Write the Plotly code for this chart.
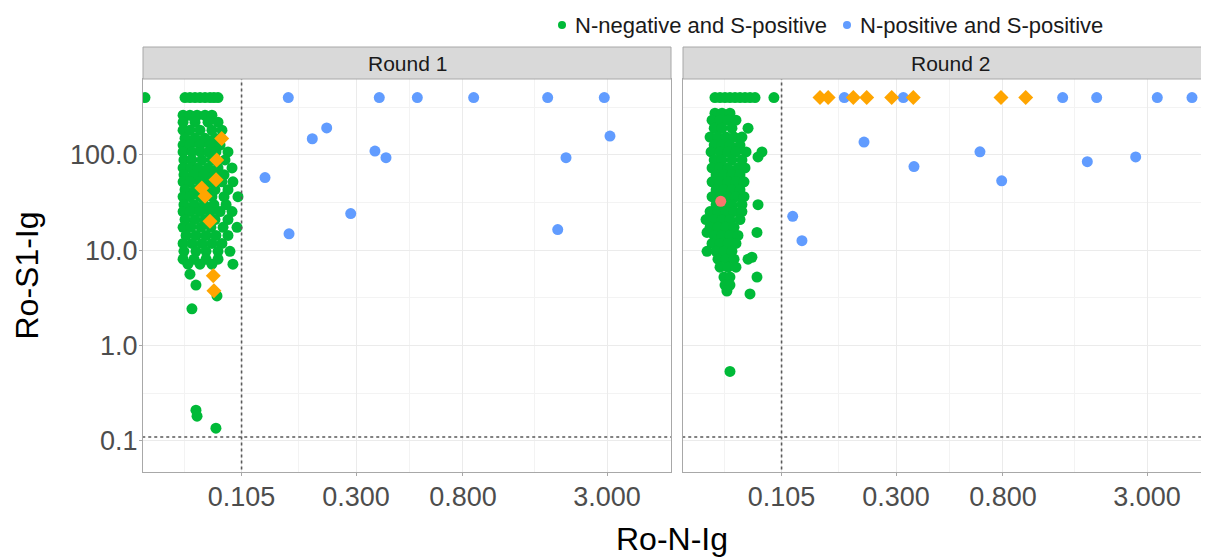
import plotly.graph_objects as go

# ---------------- data ----------------
panels = ["Round 1", "Round 2"]
legend_names = ["N-negative and S-positive", "N-positive and S-positive"]

x_tickvals = [0.105, 0.3, 0.8, 3.0]
x_ticktext = ["0.105", "0.300", "0.800", "3.000"]
x_minorvals = [0.0621, 0.1775, 0.490, 1.549]
y_tickvals = [0.1, 1, 10, 100]
y_ticktext = ["0.1", "1.0", "10.0", "100.0"]
y_minorvals = [0.0316, 0.316, 3.16, 31.6, 316]
cutoff_n = 0.105
cutoff_s = 0.11

# Round 1 : N-negative and S-positive
r1_green_x = [
    0.0433, 0.0625, 0.0654, 0.0685, 0.0717, 0.0751, 0.0786, 0.0815, 0.0846,
    0.0614, 0.0654, 0.0698, 0.0751, 0.0800,
    0.0614, 0.0685, 0.0772, 0.0846,
    0.0614, 0.0654, 0.0717, 0.0800, 0.0877,
    0.0625, 0.0685, 0.0751, 0.0823,
    0.0614, 0.0654, 0.0717, 0.0786, 0.0862,
    0.0614, 0.0666, 0.0720, 0.0775, 0.0830, 0.0927,
    0.0619, 0.0666, 0.0730, 0.0800, 0.0902,
    0.0614, 0.0660, 0.0704, 0.0772, 0.0846, 0.0962,
    0.0619, 0.0679, 0.0744, 0.0815, 0.0894,
    0.0614, 0.0654, 0.0717, 0.0786, 0.0877, 0.0970,
    0.0625, 0.0685, 0.0751, 0.0823, 0.0927,
    0.0614, 0.0654, 0.0717, 0.0800, 0.0894, 0.1016,
    0.0619, 0.0679, 0.0744, 0.0815, 0.0911,
    0.0614, 0.0654, 0.0717, 0.0786, 0.0862, 0.0962,
    0.0625, 0.0685, 0.0751, 0.0823, 0.0927,
    0.0614, 0.0660, 0.0724, 0.0793, 0.0886, 0.1007,
    0.0631, 0.0691, 0.0758, 0.0830, 0.0927,
    0.0614, 0.0666, 0.0730, 0.0800, 0.0877,
    0.0619, 0.0691, 0.0758, 0.0846, 0.0944,
    0.0614, 0.0679, 0.0758, 0.0846,
    0.0642, 0.0717, 0.0800, 0.0970,
    0.0654, 0.0691, 0.0666, 0.0838, 0.0691, 0.0698, 0.0830,
]
r1_green_y = [
    400, 400, 400, 400, 400, 400, 400, 400, 400,
    261, 261, 261, 261, 261,
    221, 221, 221, 221,
    182, 182, 182, 182, 182,
    150, 150, 150, 150,
    127, 127, 127, 127, 127,
    107.5, 107.5, 107.5, 107.5, 107.5, 107.5,
    88.7, 88.7, 88.7, 88.7, 88.7,
    73.2, 73.2, 73.2, 73.2, 73.2, 73.2,
    61.9, 61.9, 61.9, 61.9, 61.9,
    52.3, 52.3, 52.3, 52.3, 52.3, 52.3,
    43.2, 43.2, 43.2, 43.2, 43.2,
    36.5, 36.5, 36.5, 36.5, 36.5, 36.5,
    30.1, 30.1, 30.1, 30.1, 30.1,
    25.5, 25.5, 25.5, 25.5, 25.5, 25.5,
    21.0, 21.0, 21.0, 21.0, 21.0,
    17.4, 17.4, 17.4, 17.4, 17.4, 17.4,
    14.3, 14.3, 14.3, 14.3, 14.3,
    11.8, 11.8, 11.8, 11.8, 11.8,
    9.76, 9.76, 9.76, 9.76, 9.76,
    8.06, 8.06, 8.06, 8.06,
    7.15, 7.15, 7.15, 7.15,
    5.62, 4.32, 2.43, 3.32, 0.210, 0.182, 0.136,
]

# Round 1 : N-positive and S-positive
r1_blue_x = [0.1612, 0.3714, 0.5265, 0.883, 1.741, 2.926,
             0.2293, 0.2009, 0.357, 0.395, 3.083, 2.06,
             0.1302, 0.2858, 0.1623, 1.909]
r1_blue_y = [400, 400, 400, 400, 400, 400,
             192, 148, 110, 93.7, 158, 93.7,
             58, 24.3, 14.9, 16.5]

# Round 1 : highlighted samples (orange diamonds)
r1_orange_x = [0.0875, 0.0836, 0.0831, 0.0729, 0.0751, 0.0786, 0.0810, 0.0815]
r1_orange_y = [149, 88.7, 55, 45, 36.8, 20.2, 5.4, 3.77]

# Round 2 : N-negative and S-positive
r2_green_x = [
    0.0570, 0.0597, 0.0625, 0.0654, 0.0685, 0.0717, 0.0751, 0.0786, 0.0823, 0.0979,
    0.0570, 0.0608, 0.0654,
    0.0555, 0.0597, 0.0642, 0.0691,
    0.0566, 0.0608, 0.0666, 0.0772,
    0.0545, 0.0586, 0.0631, 0.0679, 0.0730,
    0.0566, 0.0608, 0.0654, 0.0717,
    0.0550, 0.0597, 0.0642, 0.0691, 0.0758, 0.0877,
    0.0846,
    0.0566, 0.0608, 0.0666, 0.0730,
    0.0555, 0.0597, 0.0642, 0.0704, 0.0751,
    0.0576, 0.0619, 0.0666, 0.0717,
    0.0555, 0.0597, 0.0642, 0.0691, 0.0744,
    0.0576, 0.0619, 0.0666, 0.0717,
    0.0555, 0.0597, 0.0642, 0.0691, 0.0744,
    0.0576, 0.0619, 0.0666, 0.0730, 0.0846,
    0.0545, 0.0586, 0.0631, 0.0679, 0.0730,
    0.0525, 0.0566, 0.0608, 0.0654, 0.0717,
    0.0545, 0.0586, 0.0631, 0.0679,
    0.0838, 0.0530,
    0.0566, 0.0608, 0.0654, 0.0704,
    0.0555, 0.0597, 0.0642, 0.0691,
    0.0530, 0.0576, 0.0619, 0.0666,
    0.0800,
    0.0586, 0.0631, 0.0679, 0.0772,
    0.0597, 0.0642, 0.0691,
    0.0619, 0.0654, 0.0838,
    0.0625, 0.0654,
    0.0636, 0.0786, 0.0654,
]
r2_green_y = [
    400, 400, 400, 400, 400, 400, 400, 400, 400, 400,
    274, 274, 274,
    232, 232, 232, 232,
    191, 191, 191, 191,
    154, 154, 154, 154, 154,
    127, 127, 127, 127,
    107.5, 107.5, 107.5, 107.5, 107.5, 107.5,
    95.3,
    88.7, 88.7, 88.7, 88.7,
    73.2, 73.2, 73.2, 73.2, 73.2,
    61.9, 61.9, 61.9, 61.9,
    52.3, 52.3, 52.3, 52.3, 52.3,
    43.2, 43.2, 43.2, 43.2,
    36.5, 36.5, 36.5, 36.5, 36.5,
    30.1, 30.1, 30.1, 30.1, 30.1,
    25.5, 25.5, 25.5, 25.5, 25.5,
    21.0, 21.0, 21.0, 21.0, 21.0,
    17.4, 17.4, 17.4, 17.4,
    15.4, 15.4,
    14.3, 14.3, 14.3, 14.3,
    11.8, 11.8, 11.8, 11.8,
    9.76, 9.76, 9.76, 9.76,
    8.45,
    8.06, 8.06, 8.06, 8.06,
    6.65, 6.65, 6.65,
    5.23, 5.23, 5.23,
    4.32, 4.32,
    3.74, 3.48, 0.536,
]

# Round 2 : N-positive and S-positive
r2_blue_x = [0.1867, 0.3209, 1.384, 1.891, 3.297, 4.533,
             0.2237, 0.3538, 0.648, 0.791, 1.735, 2.704,
             0.1163, 0.1266]
r2_blue_y = [400, 400, 400, 400, 400, 400,
             136.6, 75.5, 108, 53.6, 85.1, 95.3,
             22.7, 12.6]

# Round 2 : highlighted samples
r2_orange_x = [0.1494, 0.161, 0.2028, 0.2293, 0.2884, 0.3516, 0.786, 0.986]
r2_orange_y = [400, 400, 400, 400, 400, 400, 400, 400]
r2_red_x = [0.0601]
r2_red_y = [32.6]

# ---------------- styles ----------------
GREEN = "#00BA38"
BLUE = "#619CFF"
ORANGE = "#FFA500"
RED = "#F8766D"
FONT = "Liberation Sans, Arial, Helvetica, sans-serif"

fig = go.Figure()


def pts(x, y, color, xa, ya, symbol="circle", size=11):
    fig.add_trace(go.Scatter(
        x=x, y=y, mode="markers", xaxis=xa, yaxis=ya, showlegend=False,
        hoverinfo="x+y",
        marker=dict(color=color, size=size, symbol=symbol, line=dict(width=0)),
    ))


def cutoffs(xa, ya):
    for xs, ys in (([cutoff_n, cutoff_n], [0.001, 100000]),
                   ([0.001, 1000], [cutoff_s, cutoff_s])):
        fig.add_trace(go.Scatter(
            x=xs, y=ys, mode="lines", xaxis=xa, yaxis=ya, showlegend=False,
            hoverinfo="skip",
            line=dict(color="#5A5A5A", width=1.6, dash="3px,3px"),
        ))


pts(r1_green_x, r1_green_y, GREEN, "x", "y")
pts(r1_blue_x, r1_blue_y, BLUE, "x", "y")
pts(r1_orange_x, r1_orange_y, ORANGE, "x", "y", symbol="diamond", size=11.5)
cutoffs("x", "y")

pts(r2_green_x, r2_green_y, GREEN, "x2", "y2")
pts(r2_blue_x, r2_blue_y, BLUE, "x2", "y2")
pts(r2_red_x, r2_red_y, RED, "x2", "y2")
pts(r2_orange_x, r2_orange_y, ORANGE, "x2", "y2", symbol="diamond", size=11.5)
cutoffs("x2", "y2")

axis_common = dict(
    type="log", showgrid=True, gridcolor="#EBEBEB", gridwidth=1.1,
    showline=True, mirror=True, linecolor="#A8A8A8", linewidth=1,
    zeroline=False, ticks="outside", ticklen=3, tickcolor="#A8A8A8",
    tickfont=dict(family=FONT, size=27, color="#4D4D4D"),
)
xa = dict(axis_common, tickmode="array", tickvals=x_tickvals, ticktext=x_ticktext,
          ticklabelstandoff=-2,
          minor=dict(tickmode="array", tickvals=x_minorvals, showgrid=True,
                     gridcolor="#F3F3F3", gridwidth=0.7, ticks=""))
ya = dict(axis_common, tickmode="array", tickvals=y_tickvals, ticktext=y_ticktext,
          range=[-1.326, 2.797], ticklabelstandoff=-4,
          minor=dict(tickmode="array", tickvals=y_minorvals, showgrid=True,
                     gridcolor="#F3F3F3", gridwidth=0.7, ticks=""))

W, H = 1209, 558
ML, MR, MT, MB = 135, 0, 71, 94
PW, PH = W - ML - MR, H - MT - MB
d1 = [0, (663 - ML) / PW]
d2 = [(675 - ML) / PW, 1]


def px_x(px):
    return (px - ML) / PW


def px_y(py):
    return 1 + (MT - py) / PH


fig.update_layout(
    width=W, height=H,
    margin=dict(l=ML, r=MR, t=MT, b=MB),
    paper_bgcolor="white", plot_bgcolor="white",
    font=dict(family=FONT, color="#1A1A1A"),
    xaxis=dict(xa, domain=d1, range=[-1.3715, 0.7321], anchor="y"),
    xaxis2=dict(xa, domain=d2, range=[-1.3715, 0.7560], anchor="y2"),
    yaxis=dict(ya, domain=[0, 1], anchor="x"),
    yaxis2=dict(ya, domain=[0, 1], anchor="x2", matches="y",
                showticklabels=False, ticks=""),
    showlegend=False,
)

shapes = []
annots = []

# facet strips
strip_h = 32 / PH
for xr, label in zip(["x domain", "x2 domain"], panels):
    shapes.append(dict(type="rect", xref=xr, yref="paper", x0=0, x1=1,
                       y0=1, y1=1 + strip_h, fillcolor="#D9D9D9",
                       line=dict(color="#A8A8A8", width=1), layer="above"))
    annots.append(dict(xref=xr, yref="paper", x=0.5, y=1 + strip_h / 2,
                       text=label, showarrow=False, xanchor="center",
                       yanchor="middle",
                       font=dict(family=FONT, size=21, color="#1A1A1A")))

# legend (key dots + labels) across the top
legend_cols = [GREEN, BLUE]
legend_dot_px = [554, 839]
legend_y_px = 17
for name, col, dx in zip(legend_names, legend_cols, legend_dot_px):
    r = 4
    shapes.append(dict(type="circle", xref="paper", yref="paper",
                       x0=px_x(dx - r), x1=px_x(dx + r),
                       y0=px_y(legend_y_px + r), y1=px_y(legend_y_px - r),
                       fillcolor=col, line=dict(width=0)))
    annots.append(dict(xref="paper", yref="paper", x=px_x(dx + 11),
                       y=px_y(legend_y_px), text=name, showarrow=False,
                       xanchor="left", yanchor="middle",
                       font=dict(family=FONT, size=22, color="#1A1A1A")))

# axis titles
annots.append(dict(xref="paper", yref="paper", x=px_x(664), y=px_y(531),
                   text="Ro-N-Ig", showarrow=False, xanchor="center",
                   yanchor="middle", font=dict(family=FONT, size=32, color="#000000")))
annots.append(dict(xref="paper", yref="paper", x=px_x(18), y=0.5,
                   text="Ro-S1-Ig", showarrow=False, xanchor="center",
                   yanchor="middle", textangle=-90,
                   font=dict(family=FONT, size=32, color="#000000")))

fig.update_layout(shapes=shapes, annotations=annots)
fig.write_html("out.html")
